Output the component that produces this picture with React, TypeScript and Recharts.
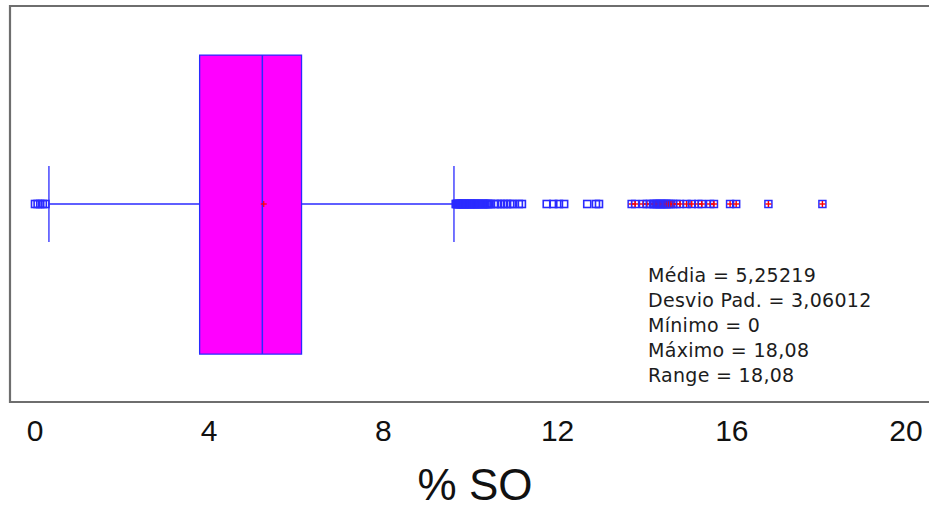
import React from 'react'
import {
  ScatterChart, Scatter, XAxis, YAxis, ReferenceArea, ReferenceLine, Label,
} from 'recharts'

// Box summary for % SO
const boxQuartiles = [3.78, 5.22, 6.12] // Q1, median, Q3
const whiskerEnds = [0.32, 9.62]
const meanValue = [5.25219]

// Points outside the fences
const lowOutliers = [0, 0.06, 0.12, 0.18, 0.24]
const highOutliers = [
  9.66, 9.68, 9.7, 9.72, 9.74, 9.76, 9.78, 9.8, 9.83, 9.85, 9.87, 9.9, 9.92,
  9.94, 9.97, 9.99, 10.01, 10.04, 10.06, 10.09, 10.11, 10.14, 10.16, 10.19,
  10.22, 10.25, 10.28, 10.31, 10.34, 10.37, 10.4, 10.43, 10.46,
  10.56, 10.63, 10.7, 10.77, 10.84, 10.91, 10.98, 11.11, 11.18,
  11.75, 11.9, 12.03, 12.15, 12.68, 12.88, 12.95,
]
const extremeOutliers = [
  13.7, 13.78, 13.96, 14.05, 14.12, 14.19, 14.22, 14.25, 14.28, 14.31, 14.34,
  14.37, 14.4, 14.43, 14.46, 14.49, 14.52, 14.55, 14.6, 14.65, 14.73, 14.81,
  14.96, 15.08, 15.23, 15.31, 15.5, 15.59, 15.96, 16.1, 16.84, 18.08,
]

const xTicks = [0, 4, 8, 12, 16, 20]
const statLabels = [
  'Média = 5,25219',
  'Desvio Pad. = 3,06012',
  'Mínimo = 0',
  'Máximo = 18,08',
  'Range = 18,08',
]

const MID = 0.5
const BLUE = '#2a2aff'
const toPoints = (vals: number[]) => vals.map((x) => ({ x, y: MID }))

const SquareMark = (props: any) => {
  const { cx, cy } = props
  return <rect x={cx - 3.5} y={cy - 3.5} width={7} height={7} fill="none" stroke={BLUE} strokeWidth={1.6} />
}

const CrossSquareMark = (props: any) => {
  const { cx, cy } = props
  return (
    <g>
      <rect x={cx - 3.5} y={cy - 3.5} width={7} height={7} fill="none" stroke={BLUE} strokeWidth={1.5} />
      <line x1={cx - 3} x2={cx + 3} y1={cy} y2={cy} stroke="#ff0000" strokeWidth={1.4} />
      <line x1={cx} x2={cx} y1={cy - 3} y2={cy + 3} stroke="#ff0000" strokeWidth={1.4} />
    </g>
  )
}

const MeanMark = (props: any) => {
  const { cx, cy } = props
  return (
    <g stroke="#ff0000" strokeWidth={1.2}>
      <line x1={cx - 3} x2={cx + 3} y1={cy} y2={cy} />
      <line x1={cx} x2={cx} y1={cy - 3} y2={cy + 3} />
    </g>
  )
}

export default function App() {
  const [q1, median, q3] = boxQuartiles
  const [wLow, wHigh] = whiskerEnds

  return (
    <div style={{ position: 'absolute', left: 0, top: 0, width: 929, height: 511, overflow: 'hidden', background: '#fff' }}>
      <ScatterChart width={940} height={511} margin={{ top: 6, right: 0, bottom: 0, left: 10 }}>
        <XAxis
          type="number"
          dataKey="x"
          domain={[-0.574, 20.78]}
          allowDataOverflow
          ticks={xTicks}
          axisLine={false}
          tickLine={false}
          tickMargin={12}
          height={109}
          tick={{ fontSize: 30, fill: '#111', fontFamily: '"Liberation Sans", Arial, sans-serif' }}
        >
          <Label
            value="% SO"
            position="insideBottom"
            offset={11}
            style={{ fontSize: 44, fill: '#111', fontFamily: '"Liberation Sans", Arial, sans-serif' }}
          />
        </XAxis>
        <YAxis type="number" dataKey="y" domain={[0, 1]} hide allowDataOverflow />

        {/* plot frame */}
        <ReferenceArea x1={-0.574} x2={20.78} y1={0} y2={1} fill="none" stroke="#6e6e6e" strokeWidth={2.2} ifOverflow="visible" />

        {/* whiskers */}
        <ReferenceLine segment={[{ x: wLow, y: MID }, { x: q1, y: MID }]} stroke={BLUE} strokeWidth={1.3} />
        <ReferenceLine segment={[{ x: q3, y: MID }, { x: wHigh, y: MID }]} stroke={BLUE} strokeWidth={1.3} />
        <ReferenceLine segment={[{ x: wLow, y: 0.404 }, { x: wLow, y: 0.596 }]} stroke={BLUE} strokeWidth={1.3} />
        <ReferenceLine segment={[{ x: wHigh, y: 0.404 }, { x: wHigh, y: 0.596 }]} stroke={BLUE} strokeWidth={1.3} />

        {/* box and median */}
        <ReferenceArea x1={q1} x2={q3} y1={0.121} y2={0.876} fill="#ff00ff" fillOpacity={1} stroke={BLUE} strokeWidth={1.3} />
        <ReferenceLine segment={[{ x: median, y: 0.121 }, { x: median, y: 0.876 }]} stroke={BLUE} strokeWidth={1.5} />

        <Scatter data={toPoints(meanValue)} shape={MeanMark} isAnimationActive={false} />
        <Scatter data={toPoints(lowOutliers)} shape={SquareMark} isAnimationActive={false} />
        <Scatter data={toPoints(highOutliers)} shape={SquareMark} isAnimationActive={false} />
        <Scatter data={toPoints(extremeOutliers)} shape={CrossSquareMark} isAnimationActive={false} />
      </ScatterChart>

      <div
        style={{
          position: 'absolute',
          left: 648,
          top: 263,
          fontFamily: '"DejaVu Sans", Verdana, sans-serif',
          fontSize: 19,
          letterSpacing: 0.3,
          lineHeight: '25px',
          color: '#1c1c1c',
          whiteSpace: 'nowrap',
        }}
      >
        {statLabels.map((s) => (
          <div key={s}>{s}</div>
        ))}
      </div>
    </div>
  )
}
